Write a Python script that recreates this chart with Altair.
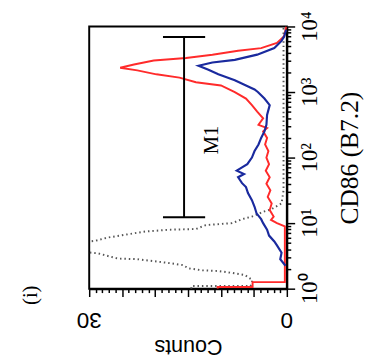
import math
import altair as alt
import pandas as pd

# log10(CD86) positions and counts
red_L = [0.0, 0.025, 0.025, 0.1, 0.1, 0.95, 1.0, 1.05, 1.1, 1.2, 1.3, 1.4, 1.5, 1.6, 1.7, 1.8, 1.9, 2.0,
         2.1, 2.2, 2.3, 2.4, 2.45, 2.5, 2.6, 2.7, 2.8, 2.9, 3.0, 3.1, 3.15, 3.22, 3.27, 3.33, 3.37,
         3.42, 3.48, 3.52, 3.57, 3.63, 3.67, 3.75, 3.85, 4.0]
red_c = [10.5, 10.5, 5.2, 5.2, 0.3, 0.3, 1.5, 2.4, 2.0, 2.6, 2.3, 2.9, 2.5, 3.1, 2.6, 3.2, 2.7, 3.1,
         2.8, 3.3, 3.0, 3.6, 3.0, 4.3, 3.6, 4.5, 5.3, 6.2, 7.9, 10.0, 13.8, 16.3, 19.8, 22.7, 25.3,
         23.2, 20.2, 15.3, 11.3, 7.4, 3.9, 1.5, 0.4, 0.1]

blue_L = [0.35, 0.45, 0.55, 0.66, 0.72, 0.81, 0.9, 1.0, 1.06, 1.15, 1.25, 1.35, 1.46, 1.55, 1.61,
          1.7, 1.75, 1.8, 1.85, 1.9, 2.0, 2.1, 2.2, 2.3, 2.4, 2.5, 2.65, 2.8, 2.9, 3.0, 3.04, 3.1,
          3.18, 3.27, 3.34, 3.4, 3.45, 3.49, 3.57, 3.67, 3.78, 3.85, 3.95]
blue_c = [0.2, 1.0, 0.8, 1.5, 1.9, 2.7, 3.0, 3.6, 3.9, 4.6, 4.9, 5.3, 5.9, 6.2, 6.8,
          7.4, 6.5, 7.6, 6.8, 6.0, 5.3, 4.9, 4.3, 3.9, 3.4, 3.1, 3.0, 2.6, 3.4, 4.4, 4.9, 6.2,
          7.9, 10.4, 11.9, 13.4, 11.3, 7.9, 4.5, 1.9, 0.8, 0.4, 0.1]

gray_L = [0.0, 0.04, 0.04, 0.13, 0.21, 0.24, 0.27, 0.28, 0.31, 0.36, 0.39, 0.42, 0.45, 0.46, 0.51,
          0.54, 0.57, 0.70, 0.73, 0.78, 0.81, 0.87, 0.90, 0.91, 0.97, 1.0, 1.06, 1.1, 1.18, 1.21,
          1.3, 1.5, 2.0, 2.5, 3.0, 3.5, 4.0]
gray_c = [14.5, 14.5, 5.5, 5.2, 6.4, 8.3, 10.4, 12.8, 14.9, 15.8, 17.8, 20.2, 22.7, 25.7, 27.6,
          28.7, 32.0, 32.0, 29.1, 27.2, 25.3, 21.7, 17.8, 13.8, 12.3, 8.3, 6.8, 5.3, 3.4, 2.4,
          0.8, 0.5, 0.5, 0.5, 0.5, 0.5, 0.5]

# M1 marker
m1_count = [15.6]
m1_low = [1.09]
m1_high = [3.84]
m1_cap_half = [3.2]

# tick labels
decade_L = [0, 1, 2, 3, 4]
decade_txt = ["10⁰", "10¹", "10²", "10³", "10⁴"]
count_lab_vals = [0, 30]
count_lab_txt = ["0", "30"]

count_ticks = list(range(0, 31))
log_ticks = [n + math.log10(k) for n in range(0, 4) for k in range(1, 10)] + [4.0]

W, H = 202, 268


def series(L, c, name):
    return pd.DataFrame({"L": L, "c": c, "s": name, "i": range(len(L))})


red_df = series(red_L, red_c, "red")
blue_df = series(blue_L, blue_c, "blue")
gray_df = series(gray_L, gray_c, "gray")

xscale = alt.Scale(domain=[0, 30], reverse=True, nice=False, zero=False)
yscale = alt.Scale(domain=[0, 4], nice=False, zero=False)

x_axis = alt.Axis(
    orient="bottom", values=count_ticks, grid=False, labels=False,
    tickSize={"condition": {"test": "datum.value % 5 == 0", "value": 8}, "value": 4},
    tickColor="black", tickWidth=1.5, domainColor="black", domainWidth=2,
    title="Counts", titleAngle=180, titleFont="Liberation Sans", titleFontSize=22,
    titleFontWeight="normal", titleColor="black",
    titleX=W / 2, titleY=59, titleAlign="center", titleBaseline="middle",
)

y_axis = alt.Axis(
    orient="right", values=log_ticks, grid=False, labels=False,
    tickSize={"condition": {"test": "abs(datum.value - round(datum.value)) < 0.001", "value": 8}, "value": 4},
    tickColor="black", tickWidth=1.5, domainColor="black", domainWidth=2,
    title="CD86 (B7.2)", titleAngle=270, titleFont="Liberation Serif", titleFontSize=26,
    titleFontWeight="normal", titleColor="black",
    titleX=64, titleY=H / 2, titleAlign="center", titleBaseline="middle",
)


def X(field):
    return alt.X(field, type="quantitative", scale=xscale, axis=x_axis)


def Y(field):
    return alt.Y(field, type="quantitative", scale=yscale, axis=y_axis)


gray = alt.Chart(gray_df).mark_line(
    color="#555555", strokeWidth=2, strokeDash=[1.5, 3], clip=True
).encode(x=X("c"), y=Y("L"), order="i:Q")

red = alt.Chart(red_df).mark_line(color="#ff2b2b", strokeWidth=2, clip=True).encode(
    x=X("c"), y=Y("L"), order="i:Q")

blue = alt.Chart(blue_df).mark_line(color="#1a2a9e", strokeWidth=2.2, clip=True).encode(
    x=X("c"), y=Y("L"), order="i:Q")

m1_df = pd.DataFrame({
    "x": m1_count, "lo": m1_low, "hi": m1_high,
    "xa": [m1_count[0] - m1_cap_half[0]], "xb": [m1_count[0] + m1_cap_half[0]],
})

m1_v = alt.Chart(m1_df).mark_rule(color="black", strokeWidth=2).encode(
    x=X("x"), y=Y("lo"), y2="hi:Q")
m1_cap_lo = alt.Chart(m1_df).mark_rule(color="black", strokeWidth=2).encode(
    x=X("xa"), x2="xb:Q", y=Y("lo"))
m1_cap_hi = alt.Chart(m1_df).mark_rule(color="black", strokeWidth=2).encode(
    x=X("xa"), x2="xb:Q", y=Y("hi"))

labels_df = pd.DataFrame({"c": [11.4, 38.8], "L": [2.27, -0.1], "t": ["M1", "(i)"]})
labels = alt.Chart(labels_df).mark_text(
    font="Liberation Serif", fontSize=21, angle=270, color="black",
    align="center", baseline="middle"
).encode(x=X("c"), y=Y("L"), text="t:N")

dec_df = pd.DataFrame({"L": decade_L, "t": decade_txt})
dec_labels = alt.Chart(dec_df).mark_text(
    font="Liberation Serif", fontSize=23, angle=270, color="black",
    align="center", baseline="middle"
).encode(x=alt.value(W + 24), y=Y("L"), text="t:N")

cnt_df = pd.DataFrame({"c": count_lab_vals, "t": count_lab_txt})
cnt_labels = alt.Chart(cnt_df).mark_text(
    font="Liberation Sans", fontSize=23, angle=180, color="black",
    align="center", baseline="middle"
).encode(x=X("c"), y=alt.value(H + 32), text="t:N")

chart = alt.layer(gray, red, blue, m1_v, m1_cap_lo, m1_cap_hi, labels, dec_labels, cnt_labels).properties(
    width=W, height=H,
    padding={"left": 83, "top": 15, "right": 85, "bottom": 69},
    autosize=alt.AutoSizeParams(type="none"),
    background="white",
).configure_view(stroke="black", strokeWidth=2)

chart.save("out.html", embed_options={"renderer": "svg", "actions": False})
